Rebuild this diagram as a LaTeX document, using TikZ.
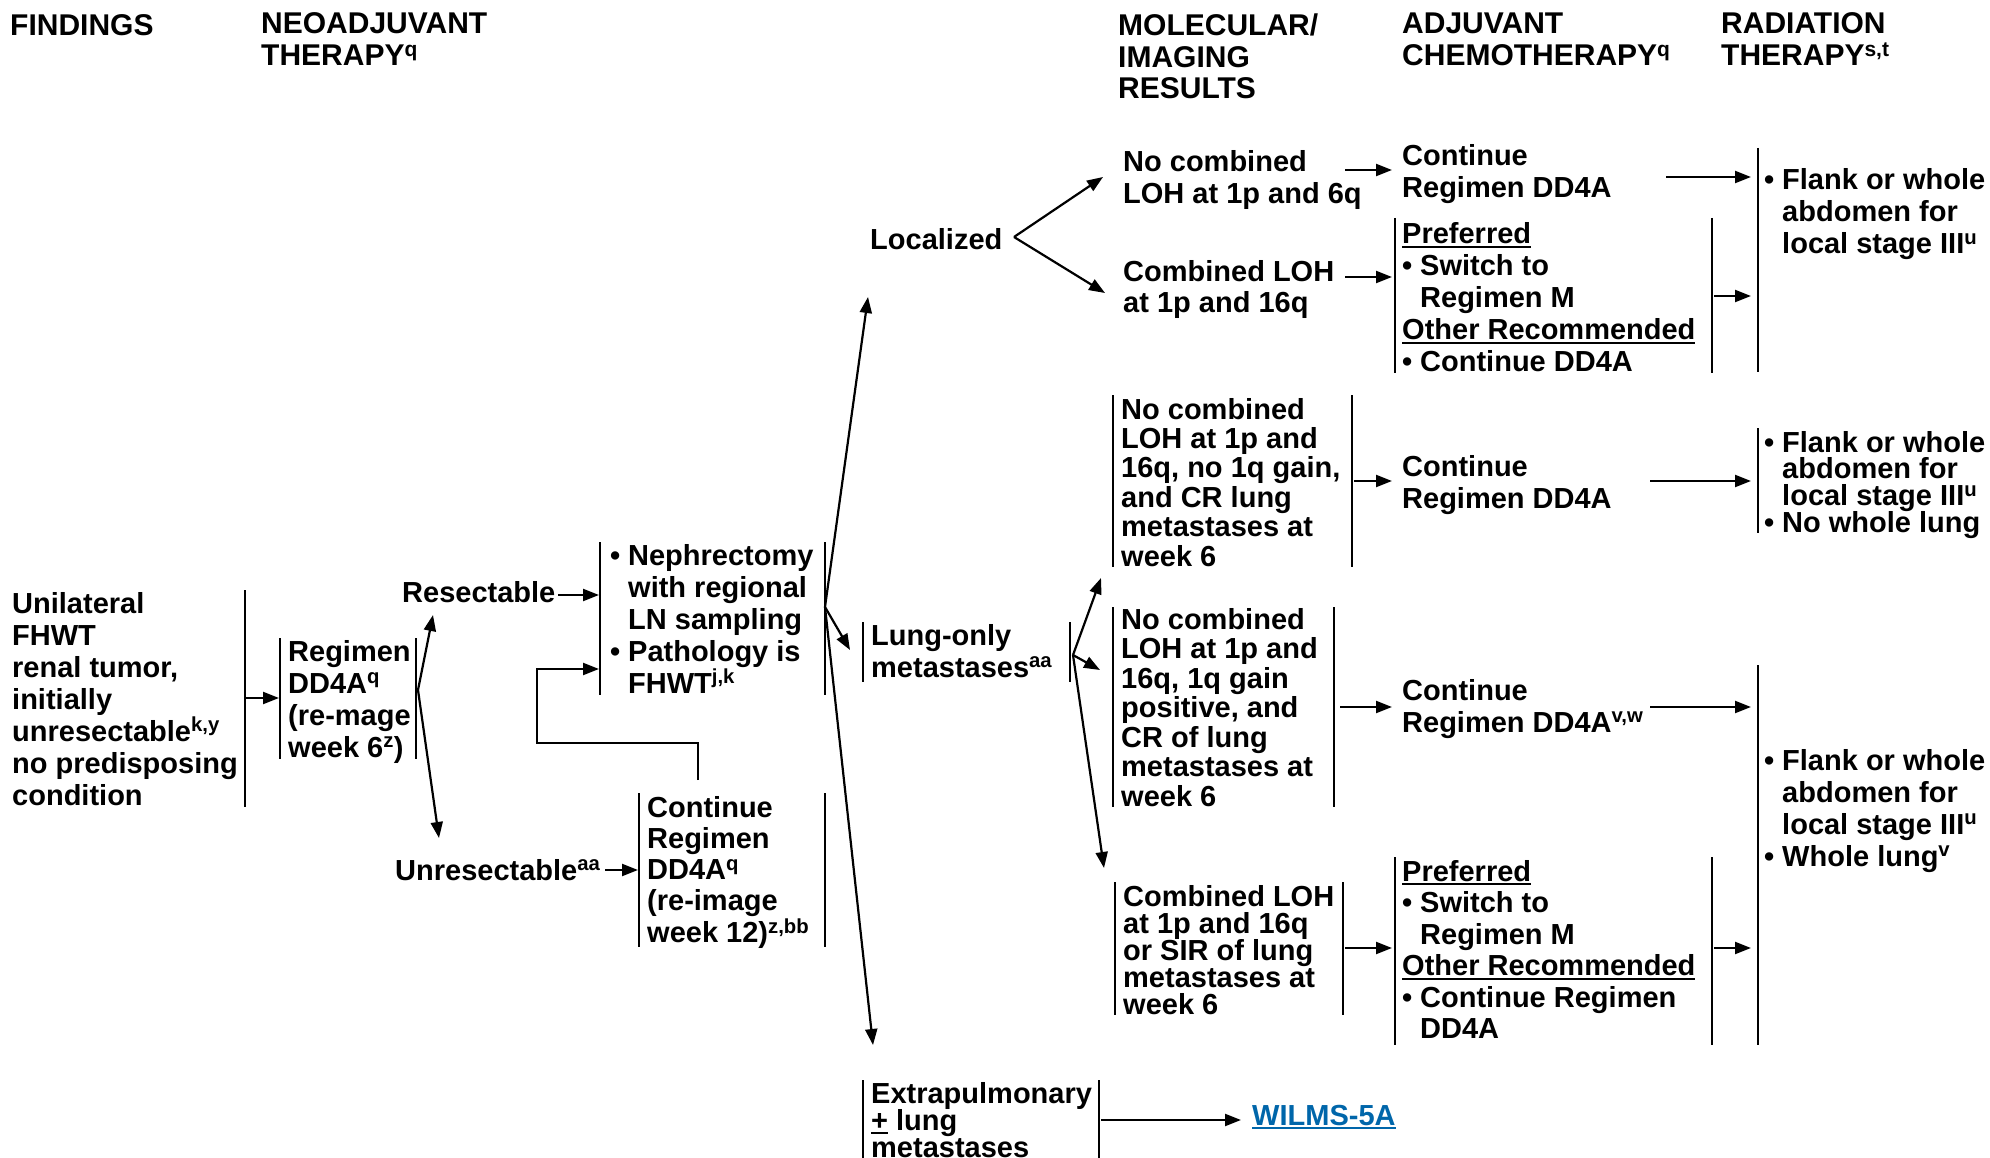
\documentclass[tikz,border=0pt]{standalone}
\usepackage{fontspec}
\setmainfont{Liberation Sans}
\usetikzlibrary{arrows.meta}
\definecolor{linkblue}{RGB}{0,102,170}
\newlength\bulw
\setlength\bulw{18pt}
\newcommand\bu{\makebox[\bulw][l]{\textbullet}}
\newcommand\ii{\hspace*{\bulw}}
\newcommand\su[1]{\textsuperscript{#1}}
\newcommand\ul[1]{\setbox0\hbox{#1}\rlap{\rule[-4pt]{\wd0}{2pt}}\box0}
% stacked lines whose baseline is the baseline of the first line
\newcommand\ml[1]{\vtop{\lineskiplimit=-1000pt\let\\\cr\halign{##\hfil\cr#1\crcr}}}
\begin{document}
\begin{tikzpicture}[x=1pt,y=-1pt,
  txt/.style={anchor=base west, inner sep=0pt, font=\fontsize{29}{32}\selectfont\bfseries},
  lsp/.style={font=\fontsize{29}{#1}\selectfont\bfseries},
  hdr/.style={anchor=base west, inner sep=0pt, font=\fontsize{30}{31.5}\selectfont\bfseries},
  bar/.style={line width=2.2pt},
  arr/.style={line width=2.2pt, -{Triangle[length=16pt,width=12pt]}},
]
\useasboundingbox (0,0) rectangle (1990,1158);
\fill[white] (0,0) rectangle (1990,1158);

% column headings
\node[hdr] (hFind) at (10,35.5) {FINDINGS};
\node[hdr] (hNeo) at (261,34) {\ml{NEOADJUVANT\\THERAPY\su{q}}};
\node[hdr] (hMol) at (1118,36) {\ml{MOLECULAR/\\IMAGING\\RESULTS}};
\node[hdr] (hAdj) at (1402,34) {\ml{ADJUVANT\\CHEMOTHERAPY\su{q}}};
\node[hdr] (hRad) at (1721,34) {\ml{RADIATION\\THERAPY\su{s,t}}};

% findings and neoadjuvant steps
\node[txt] (find) at (12,613) {\ml{Unilateral\\FHWT\\renal tumor,\\initially\\unresectable\su{k,y}\\no predisposing\\condition}};
\draw[bar] (245,590) -- (245,807);
\node[txt] (reg) at (288,661) {\ml{Regimen\\DD4A\su{q}\\(re-mage\\week 6\su{z})}};
\draw[bar] (280,638) -- (280,759);
\draw[bar] (416,638) -- (416,759);
\node[txt] (resect) at (402,602) {Resectable};
\node[txt] (unres) at (395,880) {Unresectable\su{aa}};
\node[txt] (neph) at (610,565) {\ml{\bu Nephrectomy\\\ii with regional\\\ii LN sampling\\\bu Pathology is\\\ii FHWT\su{j,k}}};
\draw[bar] (600,542) -- (600,695);
\draw[bar] (825,542) -- (825,695);
\node[txt, lsp=31.3] (cont1) at (647,817) {\ml{Continue\\Regimen\\DD4A\su{q}\\(re-image\\week 12)\su{z,bb}}};
\draw[bar] (639,793) -- (639,947);
\draw[bar] (825,793) -- (825,947);

% molecular / imaging results
\node[txt] (local) at (870,250) {Localized};
\node[txt] (lung) at (871,645) {\ml{Lung-only\\metastases\su{aa}}};
\draw[bar] (863,622) -- (863,682);
\draw[bar] (1070,622) -- (1070,682);
\node[txt, lsp=27] (extra) at (871,1103) {\ml{Extrapulmonary\\{\ul{+}} lung\\metastases}};
\draw[bar] (863,1080) -- (863,1170);
\draw[bar] (1099,1080) -- (1099,1170);
\node[txt, text=linkblue] (wilms) at (1252,1125) {\ul{WILMS-5A}};

\node[txt] (nc6q) at (1123,172) {\ml{No combined\\LOH at 1p and 6q}};
\node[txt, lsp=31] (comb1) at (1123,282) {\ml{Combined LOH\\at 1p and 16q}};
\node[txt, lsp=29.4] (nc16) at (1121,419) {\ml{No combined\\LOH at 1p and\\16q, no 1q gain,\\and CR lung\\metastases at\\week 6}};
\draw[bar] (1113,395) -- (1113,567);
\draw[bar] (1352,395) -- (1352,567);
\node[txt, lsp=29.5] (nc1q) at (1121,629) {\ml{No combined\\LOH at 1p and\\16q, 1q gain\\positive, and\\CR of lung\\metastases at\\week 6}};
\draw[bar] (1113,607) -- (1113,807);
\draw[bar] (1334,607) -- (1334,807);
\node[txt, lsp=27] (comb2) at (1123,906) {\ml{Combined LOH\\at 1p and 16q\\or SIR of lung\\metastases at\\week 6}};
\draw[bar] (1115,882) -- (1115,1015);
\draw[bar] (1343,882) -- (1343,1015);

% adjuvant chemotherapy
\node[txt] (cont2) at (1402,166) {\ml{Continue\\Regimen DD4A}};
\node[txt] (pref1) at (1402,244) {\ml{\ul{Preferred}\\\bu Switch to\\\ii Regimen M\\\ul{Other Recommended}\\\bu Continue DD4A}};
\draw[bar] (1395,218) -- (1395,373);
\draw[bar] (1712,218) -- (1712,373);
\node[txt] (cont3) at (1402,476) {\ml{Continue\\Regimen DD4A}};
\node[txt] (cont4) at (1402,700) {\ml{Continue\\Regimen DD4A\su{v,w}}};
\node[txt, lsp=31.5] (pref2) at (1402,881) {\ml{\ul{Preferred}\\\bu Switch to\\\ii Regimen M\\\ul{Other Recommended}\\\bu Continue Regimen\\\ii DD4A}};
\draw[bar] (1395,857) -- (1395,1045);
\draw[bar] (1712,857) -- (1712,1045);

% radiation therapy
\node[txt] (rad1) at (1764,190) {\ml{\bu Flank or whole\\\ii abdomen for\\\ii local stage III\su{u}}};
\draw[bar] (1758,148) -- (1758,372);
\node[txt, lsp=26.7] (rad2) at (1764,452) {\ml{\bu Flank or whole\\\ii abdomen for\\\ii local stage III\su{u}\\\bu No whole lung}};
\draw[bar] (1758,428) -- (1758,533);
\node[txt] (rad3) at (1764,770) {\ml{\bu Flank or whole\\\ii abdomen for\\\ii local stage III\su{u}\\\bu Whole lung\su{v}}};
\draw[bar] (1758,665) -- (1758,1045);

% connector end points
\coordinate (findR) at (246,698);
\coordinate (regL) at (279,698);
\coordinate (regFork) at (418,690);
\coordinate (resectIn) at (433,615);
\coordinate (unresIn) at (439,838);
\coordinate (resectOut) at (558,595);
\coordinate (nephIn) at (599,595);
\coordinate (unresOut) at (605,870);
\coordinate (cont1In) at (638,870);
\coordinate (cont1Top) at (698,780);
\coordinate (loopA) at (698,743);
\coordinate (loopB) at (537,743);
\coordinate (loopC) at (537,669);
\coordinate (nephIn2) at (599,669);
\coordinate (nephFork) at (825,607);
\coordinate (localIn) at (868,297);
\coordinate (lungIn) at (850,650);
\coordinate (extraIn) at (873,1045);
\coordinate (localFork) at (1014,237);
\coordinate (nc6qIn) at (1103,177);
\coordinate (comb1In) at (1105,293);
\coordinate (lungFork) at (1073,655);
\coordinate (nc16In) at (1101,578);
\coordinate (nc1qIn) at (1100,670);
\coordinate (comb2In) at (1104,868);
\coordinate (extraOut) at (1101,1120);
\coordinate (wilmsIn) at (1241,1120);

% connectors
\draw[arr] (findR) -- (regL);
\draw[arr] (regFork) -- (resectIn);
\draw[arr] (regFork) -- (unresIn);
\draw[arr] (resectOut) -- (nephIn);
\draw[arr] (unresOut) -- (cont1In);
\draw[arr] (cont1Top) -- (loopA) -- (loopB) -- (loopC) -- (nephIn2);
\draw[arr] (nephFork) -- (localIn);
\draw[arr] (nephFork) -- (lungIn);
\draw[arr] (nephFork) -- (extraIn);
\draw[arr] (localFork) -- (nc6qIn);
\draw[arr] (localFork) -- (comb1In);
\draw[arr] (lungFork) -- (nc16In);
\draw[arr] (lungFork) -- (nc1qIn);
\draw[arr] (lungFork) -- (comb2In);
\draw[arr] (extraOut) -- (wilmsIn);

\draw[arr] (1345,170) -- (1392,170);
\draw[arr] (1345,277) -- (1392,277);
\draw[arr] (1666,177) -- (1751,177);
\draw[arr] (1714,296) -- (1751,296);
\draw[arr] (1354,481) -- (1392,481);
\draw[arr] (1650,481) -- (1751,481);
\draw[arr] (1340,707) -- (1392,707);
\draw[arr] (1650,707) -- (1751,707);
\draw[arr] (1345,948) -- (1392,948);
\draw[arr] (1714,948) -- (1751,948);
\end{tikzpicture}
\end{document}
